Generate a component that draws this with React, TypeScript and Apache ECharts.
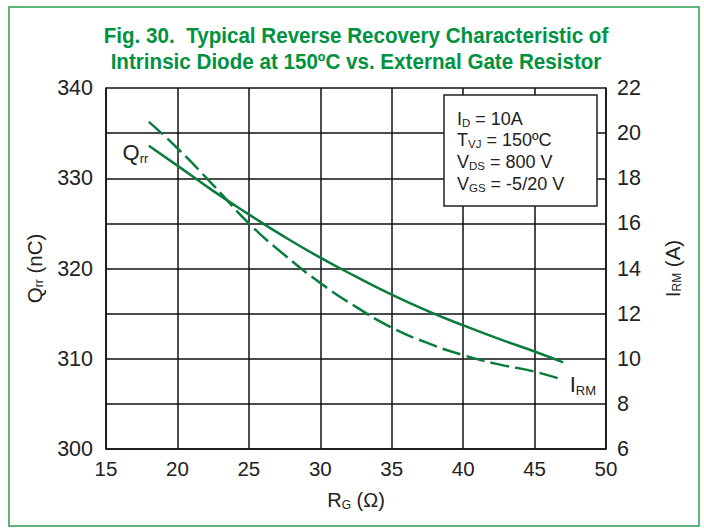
import React, { useEffect, useRef } from "react";
import * as echarts from "echarts";

const rg = [18, 20, 22.5, 25, 27.5, 30, 32.5, 35, 37.5, 40, 42.5, 45, 47];
const qrr = [333.6, 331.4, 328.6, 326.0, 323.5, 321.2, 319.1, 317.1, 315.3, 313.7, 312.2, 310.8, 309.6];
const irm = [20.5, 19.33, 17.7, 16.0, 14.6, 13.36, 12.3, 11.38, 10.7, 10.16, 9.75, 9.43, 9.06];
const titleLines = [
  "Fig. 30.  Typical Reverse Recovery Characteristic of",
  "Intrinsic Diode at 150ºC vs. External Gate Resistor",
];
const conditions = [
  ["I", "D", " = 10A"],
  ["T", "VJ", " = 150ºC"],
  ["V", "DS", " = 800 V"],
  ["V", "GS", " = -5/20 V"],
];

const FONT = "'Liberation Sans', Arial, sans-serif";
const GREEN = "#0a7d3e";
const TITLE_GREEN = "#00923f";
const INK = "#222";

const sub = (main: number, s: number, lh: number, slh: number) => ({
  a: { fontSize: main, color: INK, fill: INK, fontFamily: FONT, lineHeight: lh },
  b: { fontSize: s, color: INK, fill: INK, fontFamily: FONT, lineHeight: slh, verticalAlign: "bottom" },
});

export default function App() {
  const ref = useRef<HTMLDivElement>(null);
  useEffect(() => {
    document.body.style.margin = "0";
    const chart = echarts.init(ref.current!, null, { renderer: "svg" });

    const titleFont = `bold 21.5px ${FONT}`;
    const ctx = document.createElement("canvas").getContext("2d")!;
    ctx.font = titleFont;
    const w1 = ctx.measureText(titleLines[0]).width || 600;
    const titleScale = 505 / w1;

    const qData = rg.map((x, i) =>
      i === 0
        ? {
            value: [x, qrr[i]],
            label: {
              show: true,
              position: "left",
              distance: 0,
              offset: [0, 7],
              formatter: "{a|Q}{b|rr}",
              rich: sub(22, 13, 24, 7),
            },
          }
        : { value: [x, qrr[i]] }
    );
    const iData = rg.map((x, i) =>
      i === rg.length - 1
        ? {
            value: [x, irm[i]],
            label: {
              show: true,
              position: "right",
              distance: 6,
              offset: [0, 5],
              formatter: "{a|I}{b|RM}",
              rich: sub(22, 13, 24, 7),
            },
          }
        : { value: [x, irm[i]] }
    );

    chart.setOption({
      animation: false,
      textStyle: { fontFamily: FONT },
      graphic: [
        {
          type: "rect",
          shape: { x: 9, y: 7, width: 690, height: 519 },
          style: { fill: "none", stroke: "#2e9a52", lineWidth: 1.5 },
          z: 0,
        },
        ...titleLines.map((t, i) => ({
          type: "text",
          x: 356,
          y: 35 + i * 26.6,
          scaleX: titleScale,
          style: {
            text: t,
            font: titleFont,
            fill: TITLE_GREEN,
            align: "center",
            verticalAlign: "middle",
          },
        })),
        {
          type: "rect",
          shape: { x: 444, y: 95, width: 153, height: 111 },
          style: { fill: "#fff", stroke: INK, lineWidth: 1.5 },
          z: 100,
        },
        ...conditions.map((c, i) => ({
          type: "text",
          x: 457,
          y: 118.5 + i * 21.7,
          z: 101,
          style: {
            text: `{a|${c[0]}}{b|${c[1]}}{a|${c[2]}}`,
            verticalAlign: "middle",
            rich: sub(18, 11.5, 20, 6),
          },
        })),
      ],
      grid: { left: 106, right: 98, top: 88, bottom: 80, containLabel: false },
      xAxis: {
        type: "value",
        min: 15,
        max: 50,
        interval: 5,
        name: "{a|R}{b|G}{a| (Ω)}",
        nameLocation: "middle",
        nameGap: 40,
        nameTextStyle: { rich: sub(20, 12, 22, 6) },
        axisLine: { lineStyle: { color: "#111", width: 1.5 } },
        axisTick: { show: false },
        axisLabel: { fontSize: 20.5, color: INK, margin: 9, fontFamily: FONT },
        splitLine: { show: true, lineStyle: { color: "#111", width: 1.5 } },
      },
      yAxis: [
        {
          type: "value",
          min: 300,
          max: 340,
          interval: 5,
          name: "{a|Q}{b|rr}{a| (nC)}",
          nameLocation: "middle",
          nameRotate: 90,
          nameGap: 61,
          nameTextStyle: { rich: sub(20.5, 12, 22, 6) },
          axisLine: { show: true, lineStyle: { color: "#111", width: 1.5 } },
          axisTick: { show: false },
          axisLabel: {
            fontSize: 21.5,
            color: INK,
            margin: 13,
            fontFamily: FONT,
            formatter: (v: number) => (v % 10 === 0 ? String(v) : ""),
          },
          splitLine: { show: true, lineStyle: { color: "#111", width: 1.5 } },
        },
        {
          type: "value",
          min: 6,
          max: 22,
          interval: 2,
          name: "{a|I}{b|RM}{a| (A)}",
          nameLocation: "middle",
          nameRotate: 90,
          nameGap: 55,
          nameTextStyle: { rich: sub(20.5, 12, 22, 6) },
          axisLine: { show: true, lineStyle: { color: "#111", width: 1.5 } },
          axisTick: { show: false },
          axisLabel: { fontSize: 21.5, color: INK, margin: 11, fontFamily: FONT },
          splitLine: { show: false },
        },
      ],
      series: [
        {
          type: "line",
          name: "Qrr",
          yAxisIndex: 0,
          data: qData,
          smooth: true,
          showSymbol: true,
          symbol: "circle",
          symbolSize: 1,
          itemStyle: { color: "rgba(0,0,0,0)" },
          lineStyle: { color: GREEN, width: 2.5 },
          z: 10,
        },
        {
          type: "line",
          name: "IRM",
          yAxisIndex: 1,
          data: iData,
          smooth: true,
          showSymbol: true,
          symbol: "circle",
          symbolSize: 1,
          itemStyle: { color: "rgba(0,0,0,0)" },
          lineStyle: { color: GREEN, width: 2.5, type: [19, 6] },
          z: 10,
        },
      ],
    });
    return () => chart.dispose();
  }, []);
  return <div ref={ref} style={{ width: 704, height: 529, background: "#fff" }} />;
}
